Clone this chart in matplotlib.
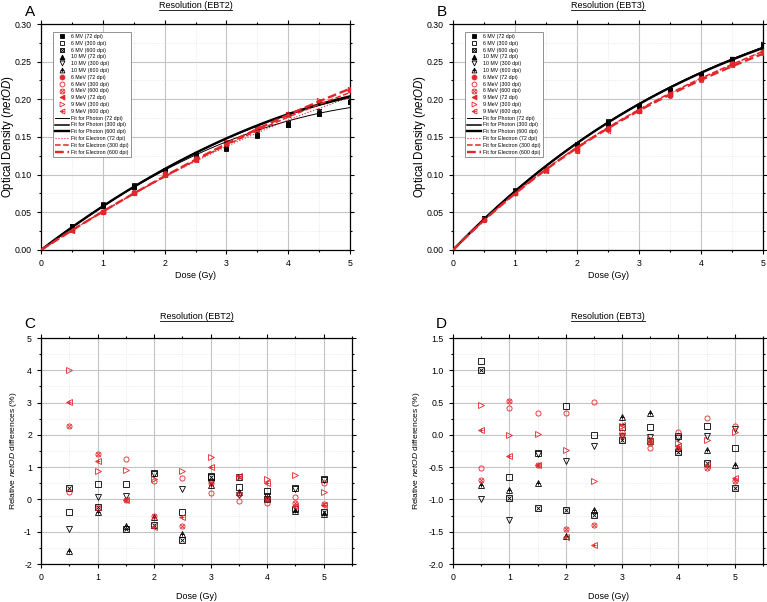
import numpy as np
import matplotlib.pyplot as plt
from matplotlib.lines import Line2D
from matplotlib.ticker import MultipleLocator, FormatStrFormatter

plt.rcParams['font.family'] = ['Liberation Sans', 'DejaVu Sans']
plt.rcParams['mathtext.fontset'] = 'custom'
plt.rcParams['mathtext.rm'] = 'Liberation Sans'
plt.rcParams['mathtext.it'] = 'Liberation Sans:italic'

RED = '#e3262b'

dose = [0.5, 1.0, 1.5, 2.0, 2.5, 3.0, 3.5, 4.0, 4.5, 5.0]

# --- panel A: netOD, EBT2 ---
ebt2_6mv_72 = [0.032, 0.060, 0.085, 0.105, 0.126, 0.134, 0.151, 0.166, 0.181, 0.196]
ebt2_6mv_300 = [0.031, 0.061, 0.086, 0.106, 0.125, 0.135, 0.152, 0.167, 0.182, 0.197]
ebt2_6mv_600 = [0.032, 0.060, 0.084, 0.104, 0.124, 0.135, 0.153, 0.166, 0.181, 0.196]
ebt2_10mv_72 = [0.031, 0.058, 0.084, 0.104, 0.127, 0.138, 0.155, 0.168, 0.184, 0.199]
ebt2_10mv_300 = [0.030, 0.058, 0.084, 0.105, 0.127, 0.139, 0.155, 0.168, 0.185, 0.200]
ebt2_10mv_600 = [0.030, 0.058, 0.083, 0.104, 0.126, 0.139, 0.155, 0.168, 0.184, 0.198]
ebt2_6mev_72 = [0.026, 0.051, 0.076, 0.101, 0.121, 0.142, 0.160, 0.180, 0.197, 0.212]
ebt2_6mev_300 = [0.026, 0.050, 0.077, 0.102, 0.122, 0.142, 0.160, 0.180, 0.197, 0.213]
ebt2_6mev_600 = [0.027, 0.051, 0.076, 0.100, 0.120, 0.143, 0.160, 0.180, 0.197, 0.212]
ebt2_9mev_72 = [0.025, 0.050, 0.075, 0.100, 0.120, 0.141, 0.161, 0.179, 0.198, 0.214]
ebt2_9mev_300 = [0.026, 0.050, 0.076, 0.101, 0.121, 0.143, 0.162, 0.180, 0.199, 0.214]
ebt2_9mev_600 = [0.026, 0.050, 0.075, 0.099, 0.120, 0.142, 0.162, 0.179, 0.198, 0.214]

# --- panel B: netOD, EBT3 ---
ebt3_6mv_72 = [0.042, 0.078, 0.108, 0.140, 0.170, 0.191, 0.212, 0.232, 0.254, 0.271]
ebt3_6mv_300 = [0.043, 0.079, 0.108, 0.141, 0.171, 0.191, 0.213, 0.232, 0.254, 0.272]
ebt3_6mv_600 = [0.042, 0.078, 0.107, 0.140, 0.169, 0.190, 0.212, 0.231, 0.253, 0.270]
ebt3_10mv_72 = [0.041, 0.077, 0.108, 0.139, 0.168, 0.190, 0.211, 0.231, 0.253, 0.272]
ebt3_10mv_300 = [0.041, 0.076, 0.108, 0.139, 0.168, 0.190, 0.211, 0.231, 0.253, 0.273]
ebt3_10mv_600 = [0.041, 0.076, 0.107, 0.138, 0.167, 0.191, 0.212, 0.231, 0.253, 0.272]
ebt3_6mev_72 = [0.040, 0.076, 0.106, 0.134, 0.161, 0.185, 0.206, 0.227, 0.247, 0.263]
ebt3_6mev_300 = [0.040, 0.076, 0.107, 0.135, 0.162, 0.185, 0.205, 0.227, 0.248, 0.264]
ebt3_6mev_600 = [0.040, 0.077, 0.106, 0.132, 0.160, 0.185, 0.206, 0.226, 0.246, 0.262]
ebt3_9mev_72 = [0.041, 0.075, 0.105, 0.134, 0.161, 0.184, 0.207, 0.228, 0.247, 0.264]
ebt3_9mev_300 = [0.041, 0.075, 0.105, 0.134, 0.160, 0.184, 0.207, 0.228, 0.247, 0.264]
ebt3_9mev_600 = [0.041, 0.075, 0.105, 0.132, 0.158, 0.184, 0.207, 0.228, 0.246, 0.262]

# fit coefficients: netOD = a*D + b*D^2 + c*D^3
ebt2_fit_photon_72 = (0.06305, -0.00505, 0.0)
ebt2_fit_photon_300 = (0.0625, -0.00440, 0.0)
ebt2_fit_photon_600 = (0.0623, -0.00430, 0.0)
ebt2_fit_electron_72 = (0.05363, -0.00263, 0.0)
ebt2_fit_electron_300 = (0.0533, -0.00230, 0.0)
ebt2_fit_electron_600 = (0.05305, -0.00205, 0.0)
ebt3_fit_photon_72 = (0.0856, -0.0079, 0.000308)
ebt3_fit_photon_300 = (0.0858, -0.0080, 0.000320)
ebt3_fit_photon_600 = (0.0855, -0.0079, 0.000305)
ebt3_fit_electron_72 = (0.08285, -0.0083, 0.00045)
ebt3_fit_electron_300 = (0.0830, -0.0083, 0.00045)
ebt3_fit_electron_600 = (0.0826, -0.0083, 0.00044)

# --- panel C: relative differences (%), EBT2 ---
c_6mv_300 = [-0.40, 0.47, 0.48, 0.81, -0.38, 0.74, 0.37, 0.27, 0.35, 0.64]
c_6mv_600 = [0.35, -0.22, -0.91, -0.78, -1.26, 0.70, 0.70, 0.00, -0.29, -0.38]
c_10mv_300 = [-0.93, 0.09, 0.11, 0.78, 0.32, 0.51, 0.15, 0.10, 0.33, 0.60]
c_10mv_600 = [-1.60, -0.40, -0.83, -0.55, -1.08, 0.45, 0.22, 0.05, -0.35, -0.44]
c_6mev_300 = [0.22, -0.27, 1.26, 0.56, 0.65, 0.20, -0.05, -0.11, 0.06, 0.52]
c_6mev_600 = [2.26, 1.42, -0.01, -0.52, -0.82, 0.50, 0.18, 0.02, -0.11, -0.14]
c_9mev_300 = [4.00, 0.87, 0.90, 0.63, 0.87, 1.32, 0.68, 0.62, 0.77, 0.22]
c_9mev_600 = [3.02, 1.19, -0.02, -0.86, -0.54, 1.00, 0.72, 0.50, -0.21, -0.18]

# --- panel D: relative differences (%), EBT3 ---
d_6mv_300 = [1.14, -0.66, -0.28, 0.45, 0.00, 0.12, 0.12, -0.02, 0.13, -0.20]
d_6mv_600 = [1.00, -0.98, -1.13, -1.17, -1.24, -0.08, -0.10, -0.26, -0.44, -0.82]
d_10mv_300 = [-1.00, -1.32, -0.30, -0.41, -0.17, -0.02, -0.03, -0.05, -0.02, 0.09]
d_10mv_600 = [-0.77, -0.86, -0.74, -1.57, -1.17, 0.27, 0.34, -0.20, -0.24, -0.47]
d_6mev_300 = [-0.51, 0.42, 0.34, 0.34, 0.51, 0.05, -0.20, 0.05, 0.26, 0.14]
d_6mev_600 = [-0.70, 0.52, -0.47, -1.46, -1.40, 0.00, -0.13, -0.21, -0.52, -0.72]
d_9mev_300 = [0.47, 0.00, 0.02, -0.24, -0.72, 0.14, -0.06, -0.12, -0.08, 0.05]
d_9mev_600 = [0.07, -0.32, -0.47, -1.58, -1.70, 0.16, -0.10, -0.17, -0.46, -0.67]

# marker styles: (label, color, marker, filled, overlay)
styles = {
    '6mv_72': ('6 MV (72 dpi)', 'black', 's', True, None),
    '6mv_300': ('6 MV (300 dpi)', 'black', 's', False, None),
    '6mv_600': ('6 MV (600 dpi)', 'black', 's', False, 'x'),
    '10mv_72': ('10 MV (72 dpi)', 'black', '^', True, None),
    '10mv_300': ('10 MV (300 dpi)', 'black', 'v', False, None),
    '10mv_600': ('10 MV (600 dpi)', 'black', '^', False, '+'),
    '6mev_72': ('6 MeV (72 dpi)', RED, 'o', True, None),
    '6mev_300': ('6 MeV (300 dpi)', RED, 'o', False, None),
    '6mev_600': ('6 MeV (600 dpi)', RED, 'o', False, 'x'),
    '9mev_72': ('9 MeV (72 dpi)', RED, '<', True, None),
    '9mev_300': ('9 MeV (300 dpi)', RED, '>', False, None),
    '9mev_600': ('9 MeV (600 dpi)', RED, '<', False, '+'),
}

fit_styles = [
    ('Fit for Photon (72 dpi)', 'black', '-', 0.7),
    ('Fit for Photon (300 dpi)', 'black', '-', 1.1),
    ('Fit for Photon (600 dpi)', 'black', '-', 1.7),
    ('Fit for Electron (72 dpi)', RED, ':', 0.8),
    ('Fit for Electron (300 dpi)', RED, '--', 1.1),
    ('Fit for Electron (600 dpi)', RED, '--', 1.7),
]


def draw_points(ax, key, y, ms=3.8):
    label, color, marker, filled, extra = styles[key]
    h = ax.plot(dose, y, ls='none', marker=marker, ms=ms, mec=color,
                mfc=color if filled else 'none', mew=0.6, zorder=3)[0]
    if extra:
        h2 = ax.plot(dose, y, ls='none', marker=extra, ms=ms * 0.9,
                     mec=color, mew=0.6, zorder=3)[0]
        return (h, h2)
    return h


def style_axes(ax, ymaj, ymin, fmt):
    ax.xaxis.set_major_locator(MultipleLocator(1))
    ax.xaxis.set_minor_locator(MultipleLocator(0.5))
    ax.yaxis.set_major_locator(MultipleLocator(ymaj))
    ax.yaxis.set_minor_locator(MultipleLocator(ymin))
    ax.yaxis.set_major_formatter(FormatStrFormatter(fmt))
    ax.tick_params(which='both', direction='out', top=True, right=True,
                   labelsize=6.3, width=0.8)
    ax.tick_params(which='major', length=3)
    ax.tick_params(which='minor', length=1.6)
    ax.grid(which='major', color='#c4c4c4', lw=0.8)
    ax.grid(which='minor', color='#dcdcdc', lw=0.5, ls=':')
    ax.set_axisbelow(True)
    for s in ax.spines.values():
        s.set_linewidth(0.9)


fig = plt.figure(figsize=(7.67, 6.02), dpi=100)
W, H = 767, 602


def axes_px(left, top, right, bottom):
    return fig.add_axes([left / W, 1 - bottom / H, (right - left) / W, (bottom - top) / H])


axA = axes_px(41, 24, 350, 250)
axB = axes_px(453, 24, 763, 250)
axC = axes_px(41, 338, 352, 564)
axD = axes_px(453, 338, 763, 564)

top_keys = ['6mv_72', '6mv_300', '6mv_600', '10mv_72', '10mv_300', '10mv_600',
            '6mev_72', '6mev_300', '6mev_600', '9mev_72', '9mev_300', '9mev_600']
ebt2_od = [ebt2_6mv_72, ebt2_6mv_300, ebt2_6mv_600, ebt2_10mv_72, ebt2_10mv_300, ebt2_10mv_600,
           ebt2_6mev_72, ebt2_6mev_300, ebt2_6mev_600, ebt2_9mev_72, ebt2_9mev_300, ebt2_9mev_600]
ebt3_od = [ebt3_6mv_72, ebt3_6mv_300, ebt3_6mv_600, ebt3_10mv_72, ebt3_10mv_300, ebt3_10mv_600,
           ebt3_6mev_72, ebt3_6mev_300, ebt3_6mev_600, ebt3_9mev_72, ebt3_9mev_300, ebt3_9mev_600]
ebt2_fits = [ebt2_fit_photon_72, ebt2_fit_photon_300, ebt2_fit_photon_600,
             ebt2_fit_electron_72, ebt2_fit_electron_300, ebt2_fit_electron_600]
ebt3_fits = [ebt3_fit_photon_72, ebt3_fit_photon_300, ebt3_fit_photon_600,
             ebt3_fit_electron_72, ebt3_fit_electron_300, ebt3_fit_electron_600]

dd = np.linspace(0, 5, 200)
titles = []
for ax, od, fits, film, letter in [(axA, ebt2_od, ebt2_fits, 'EBT2', 'A'),
                                   (axB, ebt3_od, ebt3_fits, 'EBT3', 'B')]:
    handles, labels = [], []
    for key, y in zip(top_keys, od):
        handles.append(draw_points(ax, key, y, ms=3.2))
        labels.append(styles[key][0])
    for (lab, col, ls, lw), (a, b, c) in zip(fit_styles, fits):
        h = ax.plot(dd, a * dd + b * dd ** 2 + c * dd ** 3, color=col, ls=ls, lw=lw, zorder=4)[0]
        handles.append(h)
        labels.append(lab)
    ax.set_xlim(0, 5)
    ax.set_ylim(0, 0.30)
    style_axes(ax, 0.05, 0.025, '%.2f')
    ax.set_xlabel('Dose (Gy)', fontsize=6.5)
    ax.set_ylabel(r'Optical Density ($\mathit{netOD}$)', fontsize=8.3)
    leg = ax.legend(handles, labels, loc='upper left', bbox_to_anchor=(0.038, 0.965),
                    borderaxespad=0, fontsize=3.8, labelspacing=0.34, handlelength=2.6,
                    handletextpad=0.5, borderpad=0.4, fancybox=False, edgecolor='#808080',
                    framealpha=1, numpoints=1, markerscale=1.1)
    leg.get_frame().set_linewidth(0.6)
    titles.append(ax.text(0.5, 1.084, 'Resolution (%s)' % film, transform=ax.transAxes,
                          ha='center', va='center', fontsize=6.5))
    ax.text(-0.037, 1.055, letter, transform=ax.transAxes, ha='center', va='center', fontsize=11)

bottom_keys = ['6mv_300', '6mv_600', '10mv_300', '10mv_600',
               '6mev_300', '6mev_600', '9mev_300', '9mev_600']
c_rel = [c_6mv_300, c_6mv_600, c_10mv_300, c_10mv_600, c_6mev_300, c_6mev_600, c_9mev_300, c_9mev_600]
d_rel = [d_6mv_300, d_6mv_600, d_10mv_300, d_10mv_600, d_6mev_300, d_6mev_600, d_9mev_300, d_9mev_600]

for ax, rel, film, letter, ylim, ymaj, ymin, fmt in [
        (axC, c_rel, 'EBT2', 'C', (-2, 5), 1, 0.5, '%d'),
        (axD, d_rel, 'EBT3', 'D', (-2, 1.5), 0.5, 0.25, '%.1f')]:
    for key, y in zip(bottom_keys, rel):
        draw_points(ax, key, y, ms=3.7)
    ax.set_xlim(0, 5.5)
    ax.set_ylim(*ylim)
    style_axes(ax, ymaj, ymin, fmt)
    ax.set_xlabel('Dose (Gy)', fontsize=6.5)
    ax.set_ylabel(r'Relative $\mathit{netOD}$ differences (%)', fontsize=6.1)
    titles.append(ax.text(0.5, 1.094, 'Resolution (%s)' % film, transform=ax.transAxes,
                          ha='center', va='center', fontsize=6.5))
    ax.text(-0.037, 1.06, letter, transform=ax.transAxes, ha='center', va='center', fontsize=11)

axA.xaxis.set_label_coords(0.5, -0.093)
axB.xaxis.set_label_coords(0.5, -0.093)
axC.xaxis.set_label_coords(0.5, -0.124)
axD.xaxis.set_label_coords(0.5, -0.124)
axA.yaxis.set_label_coords(-0.082, 0.5)
axB.yaxis.set_label_coords(-0.082, 0.5)
axC.yaxis.set_label_coords(-0.07, 0.5)
axD.yaxis.set_label_coords(-0.10, 0.5)

# underline the panel titles
fig.canvas.draw()
r = fig.canvas.get_renderer()
inv = fig.transFigure.inverted()
for t in titles:
    bb = t.get_window_extent(renderer=r)
    (x0, y0), (x1, _) = inv.transform([(bb.x0, bb.y0), (bb.x1, bb.y0)])
    fig.add_artist(Line2D([x0, x1], [y0, y0], transform=fig.transFigure, color='black', lw=0.6))

fig.savefig('out.png', dpi=100)
